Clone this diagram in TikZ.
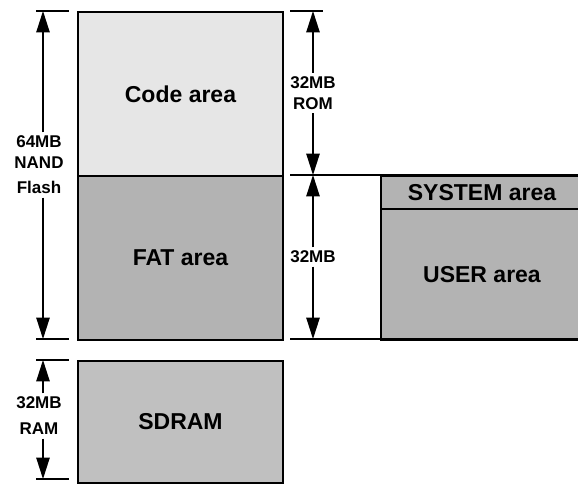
\documentclass[tikz,border=0pt]{standalone}
\usepackage{fontspec}
\setmainfont{Liberation Sans}
\usetikzlibrary{arrows.meta}

\definecolor{codegray}{HTML}{E6E6E6}
\definecolor{fatgray}{HTML}{B3B3B3}
\definecolor{ramgray}{HTML}{C0C0C0}

\begin{document}
\begin{tikzpicture}[
    x=0.75pt, y=-0.75pt,
    % Define styles
    area/.style={
        rectangle,
        draw,
        line width=1.5pt,
        inner sep=0pt,
        anchor=north west,
        font=\fontsize{17.25}{20}\selectfont\bfseries
    },
    dimline/.style={
        line width=1.1pt
    },
    dimarrow/.style={
        -{Triangle[length=16pt, width=10pt]},
        line width=1.1pt
    },
    sizelabel/.style={
        align=center,
        inner sep=2.5pt,
        font=\fontsize{12.75}{15.75}\selectfont\bfseries
    }
]

% Variables (pixels)
\def\px{0.75pt}
\def\boxL{77}
\def\boxW{205}
\def\topy{11}
\def\midy{175}
\def\boty{339}
\def\ramtop{360}
\def\rambot{479}
\def\userx{380}
\def\sysy{208}
\def\leftx{43}
\def\rightx{313}

\useasboundingbox (0,0) rectangle (578,483);
\clip (0,0) rectangle (578,483);

% Draw NAND flash areas
\node[area, fill=codegray, minimum width=\boxW*\px, minimum height=164*\px] (code) at (\boxL,\topy) {Code area};
\node[area, fill=fatgray, minimum width=\boxW*\px, minimum height=164*\px] (fat) at (\boxL,\midy) {FAT area};

% Draw FAT partition
\node[area, fill=fatgray, minimum width=202*\px, minimum height=33*\px] (system) at (\userx,\midy) {SYSTEM area};
\node[area, fill=fatgray, minimum width=202*\px, minimum height=131*\px] (user) at (\userx,\sysy) {USER area};

% Draw SDRAM
\node[area, fill=ramgray, minimum width=\boxW*\px, minimum height=122*\px] (sdram) at (\boxL,\ramtop) {SDRAM};

% Tick lines
\draw[dimline] (36,\topy) -- (69,\topy);
\draw[dimline] (36,\boty) -- (69,\boty);
\draw[dimline] (290,\topy) -- (323,\topy);
\draw[dimline] (290,\midy) -- (578,\midy);
\draw[dimline] (290,\boty) -- (578,\boty);
\draw[dimline] (36,\ramtop) -- (69,\ramtop);
\draw[dimline] (36,\rambot) -- (69,\rambot);

% Arrow ends
\coordinate (flashtop) at (\leftx,\topy);
\coordinate (flashbot) at (\leftx,\boty);
\coordinate (romtop) at (\rightx,\topy);
\coordinate (rombot) at (\rightx,\midy);
\coordinate (fattop) at (\rightx,\midy);
\coordinate (fatbot) at (\rightx,\boty);
\coordinate (ramtopend) at (\leftx,\ramtop);
\coordinate (rambotend) at (\leftx,\rambot);

% 64MB NAND Flash
\node[sizelabel] (flashlbl) at (39,165) {64MB\\NAND\\[3pt]Flash};
\draw[dimarrow] (flashlbl.north -| flashtop) -- (flashtop);
\draw[dimarrow] (flashlbl.south -| flashbot) -- (flashbot);

% 32MB ROM
\node[sizelabel] (romlbl) at (\rightx,93) {32MB\\ROM};
\draw[dimarrow] (romlbl.north -| romtop) -- (romtop);
\draw[dimarrow] (romlbl.south -| rombot) -- (rombot);

% 32MB
\node[sizelabel] (fatlbl) at (\rightx,257) {32MB};
\draw[dimarrow] (fatlbl.north -| fattop) -- (fattop);
\draw[dimarrow] (fatlbl.south -| fatbot) -- (fatbot);

% 32MB RAM
\node[sizelabel] (ramlbl) at (39,416) {32MB\\[3.75pt]RAM};
\draw[dimarrow] (ramlbl.north -| ramtopend) -- (ramtopend);
\draw[dimarrow] (ramlbl.south -| rambotend) -- (rambotend);

\end{tikzpicture}
\end{document}
